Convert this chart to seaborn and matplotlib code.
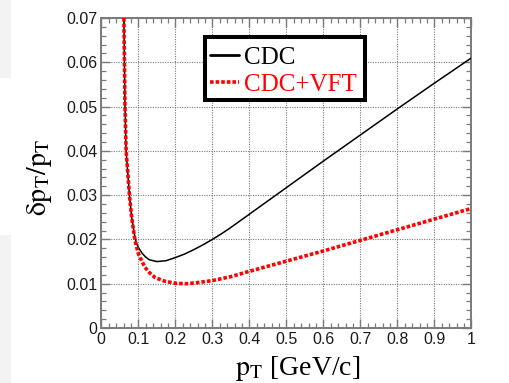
import numpy as np
import pandas as pd
import matplotlib
matplotlib.use("Agg")
import matplotlib.pyplot as plt
import seaborn as sns
from matplotlib.patches import Rectangle
from matplotlib.lines import Line2D
from matplotlib.ticker import MultipleLocator, FixedLocator, FixedFormatter

# ---- data ----
cdc_pt = [0.061, 0.0625, 0.064, 0.067, 0.073, 0.076, 0.082, 0.091, 0.095, 0.10, 0.11,
          0.12, 0.13, 0.15, 0.175, 0.20, 0.225, 0.25, 0.275, 0.30, 0.325, 0.35, 0.40,
          0.50, 0.60, 0.70, 0.80, 0.90, 1.00]
cdc_res = [0.070, 0.060, 0.050, 0.040, 0.0334, 0.030, 0.025, 0.0204, 0.0192, 0.0182,
           0.0169, 0.0160, 0.0154, 0.0150, 0.0152, 0.0159, 0.0167, 0.0177, 0.0188,
           0.0200, 0.0213, 0.0227, 0.0257, 0.0317, 0.0377, 0.0436, 0.0495, 0.0553,
           0.0610]

vft_pt = [0.061, 0.0625, 0.064, 0.067, 0.073, 0.076, 0.082, 0.091, 0.10, 0.11, 0.118,
          0.13, 0.145, 0.17, 0.20, 0.23, 0.255, 0.30, 0.35, 0.40, 0.50, 0.60, 0.70,
          0.80, 0.90, 1.00]
vft_res = [0.070, 0.060, 0.050, 0.040, 0.0334, 0.030, 0.025, 0.0198, 0.0168, 0.0150,
           0.0137, 0.0125, 0.0114, 0.0106, 0.0101, 0.0100, 0.0102, 0.0107, 0.0116,
           0.0128, 0.0151, 0.0174, 0.0198, 0.0222, 0.0246, 0.0270]

series_names = ["CDC", "CDC+VFT"]
x_ticks = [0.0, 0.1, 0.2, 0.3, 0.4, 0.5, 0.6, 0.7, 0.8, 0.9, 1.0]
x_tick_labels = ["0", "0.1", "0.2", "0.3", "0.4", "0.5", "0.6", "0.7", "0.8", "0.9", "1"]
y_ticks = [0.0, 0.01, 0.02, 0.03, 0.04, 0.05, 0.06, 0.07]
y_tick_labels = ["0", "0.01", "0.02", "0.03", "0.04", "0.05", "0.06", "0.07"]
x_title = r"$\mathrm{p_{T}}$ [GeV/c]"
y_title = r"$\mathrm{\delta p_{T}/p_{T}}$"

df_cdc = pd.DataFrame({"pt": cdc_pt, "res": cdc_res})
df_vft = pd.DataFrame({"pt": vft_pt, "res": vft_res})

# ---- style ----
sns.set_style("ticks")
plt.rcParams["font.family"] = ["Liberation Sans", "DejaVu Sans"]
plt.rcParams["mathtext.fontset"] = "stix"

W, H = 510, 383
fig = plt.figure(figsize=(W / 100, H / 100), dpi=100)
fig.patch.set_facecolor("white")

# faint screenshot strips at the left edge
fig.patches.append(Rectangle((0, (H - 78) / H), 11 / W, 78 / H, transform=fig.transFigure,
                             facecolor="#f3f3f3", edgecolor="none", zorder=0))
fig.patches.append(Rectangle((0, 0), 11 / W, (H - 235) / H, transform=fig.transFigure,
                             facecolor="#f3f3f3", edgecolor="none", zorder=0))

x0p, x1p, y0p, y1p = 101.3, 471.5, 328.0, 18.0
ax = fig.add_axes([x0p / W, (H - y0p) / H, (x1p - x0p) / W, (y0p - y1p) / H])

sns.lineplot(data=df_cdc, x="pt", y="res", ax=ax, color="black", linewidth=1.1,
             estimator=None, sort=False, zorder=3)
sns.lineplot(data=df_vft, x="pt", y="res", ax=ax, color="#ff0000", linewidth=2.6,
             estimator=None, sort=False, zorder=4, linestyle=(0, (1.0, 0.55)))
for ln in ax.get_lines():
    ln.set_dash_capstyle("butt")

ax.set_xlim(0, 1)
ax.set_ylim(0, 0.07)
ax.set_xlabel("")
ax.set_ylabel("")

ax.xaxis.set_major_locator(FixedLocator(x_ticks))
ax.xaxis.set_major_formatter(FixedFormatter(x_tick_labels))
ax.yaxis.set_major_locator(FixedLocator(y_ticks))
ax.yaxis.set_major_formatter(FixedFormatter(y_tick_labels))
ax.xaxis.set_minor_locator(MultipleLocator(0.02))
ax.yaxis.set_minor_locator(MultipleLocator(0.002))

spine_col = "#7a7a7a"
for s in ax.spines.values():
    s.set_visible(True)
    s.set_color(spine_col)
    s.set_linewidth(1.4)

ax.tick_params(which="both", direction="in", top=True, right=True, color=spine_col)
ax.tick_params(which="major", length=6.8, width=1.0, labelsize=11.5, pad=3,
               labelcolor="#1a1a1a")
ax.tick_params(which="minor", length=3.8, width=0.9)

ax.grid(True, which="major", linestyle=(0, (1, 1.2)), color="#7a7a7a", linewidth=0.8)
ax.set_axisbelow(True)

# axis titles
fig.text(235 / W, (H - 375) / H, x_title, ha="left", va="baseline",
         fontsize=20, family="Liberation Serif", color="black")
fig.text(40 / W, (H - 177.5) / H, y_title, ha="center", va="center", rotation=90,
         fontsize=20, color="black")

# legend box
def axx(px):
    return (px - x0p) / (x1p - x0p)

def axy(py):
    return (y0p - py) / (y0p - y1p)

ax.add_patch(Rectangle((axx(205), axy(99.5)), axx(365) - axx(205), axy(37) - axy(99.5),
                       transform=ax.transAxes, facecolor="white", edgecolor="black",
                       linewidth=2.9, zorder=6))
handles = [Line2D([], [], color="black", linewidth=2.0),
           Line2D([], [], color="#ff0000", linewidth=2.6, linestyle=(0, (1.0, 0.55)),
                  dash_capstyle="butt")]
leg = ax.legend(handles, series_names, loc="upper left",
                bbox_to_anchor=(axx(210), axy(46)), bbox_transform=ax.transAxes,
                frameon=False, borderpad=0.0, borderaxespad=0.0, handlelength=1.15,
                handletextpad=0.2, labelspacing=0.2,
                prop={"family": "Liberation Serif", "size": 18})
leg.set_zorder(7)
for txt, c in zip(leg.get_texts(), ["black", "#ff0000"]):
    txt.set_color(c)

fig.savefig("out.png", dpi=100, facecolor="white")
